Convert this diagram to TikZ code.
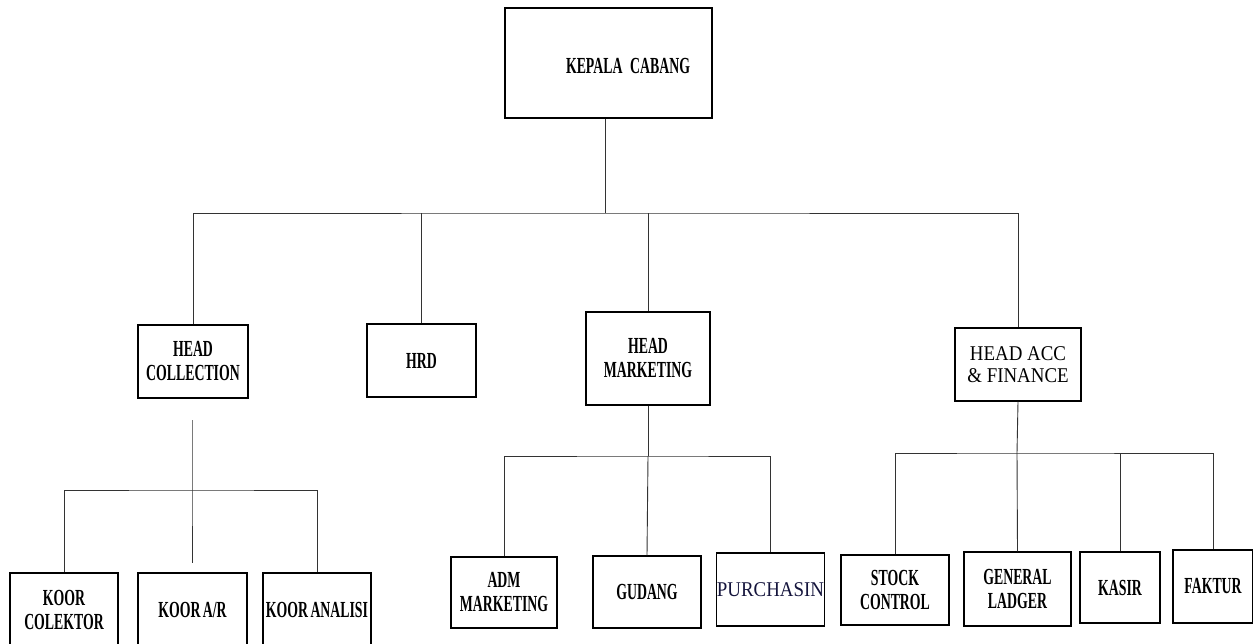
\documentclass[tikz,border=0pt]{standalone}
\usepackage{fontspec}
\usepackage{tikz}
\newfontfamily\orgbold[FakeStretch=0.6, WordSpace=0.7]{Liberation Serif}
\newfontfamily\orgreg[FakeStretch=0.9]{Liberation Serif}
\definecolor{purblue}{RGB}{20,20,60}

\begin{document}
\begin{tikzpicture}[x=1pt, y=-1pt,
  every node/.style = {shape=rectangle, draw, line width=1.1pt, inner sep=0pt, align=center,
    font=\orgbold\bfseries\fontsize{23}{24}\selectfont},
  link/.style = {line width=0.9pt, draw=black!80}]
  \useasboundingbox (0,0) rectangle (1253,643);
  % top level
  \node[minimum width=207, minimum height=110, text width=163, align=right,
    text height=25pt, text depth=5pt] (kc) at (608.5,63) {KEPALA CABANG};
  % heads
  \node[minimum width=110, minimum height=73] (hc) at (193,361.5) {HEAD\\COLLECTION};
  \node[minimum width=109, minimum height=73] (hrd) at (421.5,360.5) {HRD};
  \node[minimum width=124, minimum height=93] (hm) at (648,358.5) {HEAD\\MARKETING};
  \node[minimum width=126, minimum height=73, font=\orgreg\fontsize{21}{22}\selectfont] (hac) at (1018,364.5) {HEAD ACC\\\& FINANCE};
  % staff
  \node[minimum width=108, minimum height=74] (kco) at (64,610) {KOOR\\COLEKTOR};
  \node[minimum width=109, minimum height=74] (kar) at (192.5,610) {KOOR A/R};
  \node[minimum width=108, minimum height=74] (kan) at (317,610) {KOOR ANALISI};
  \node[minimum width=106, minimum height=71] (adm) at (504,592.5) {ADM\\MARKETING};
  \node[minimum width=108, minimum height=72] (gud) at (647,592) {GUDANG};
  \node[minimum width=107, minimum height=73, text=purblue, font=\orgreg\fontsize{21}{24}\selectfont] (pur) at (770.5,589.5) {PURCHASIN};
  \node[minimum width=108, minimum height=70] (stc) at (895,590) {STOCK\\CONTROL};
  \node[minimum width=107, minimum height=74] (gl) at (1017.5,589) {GENERAL\\LADGER};
  \node[minimum width=80, minimum height=71] (ks) at (1120,587.5) {KASIR};
  \node[minimum width=80, minimum height=73] (fk) at (1213,586.5) {FAKTUR};
  % bus points
  \coordinate (bus) at (605,213);
  \coordinate (hcstem) at (192,420);
  \coordinate (hcbus) at (192,490);
  \coordinate (karend) at (192,563);
  \coordinate (hmbus) at (648,456);
  \coordinate (hacbus) at (1017,453);
  % connectors
  \draw[link] (kc.south -| bus) -- (bus);
  \draw[link] (hc.north) |- (bus) -| (hac.north);
  \draw[link] (hrd.north) -- (hrd.north |- bus);
  \draw[link] (hm.north) -- (hm.north |- bus);
  \draw[link] (hcstem) -- (hcbus) -- (karend);
  \draw[link] (kco.north) |- (hcbus) -| (kan.north);
  \draw[link] (hm.south) -- (hmbus);
  \draw[link] (adm.north) |- (hmbus) -| (pur.north);
  \draw[link] (hmbus) -- (gud.north);
  \draw[link] (hac.south) -- (hacbus);
  \draw[link] (stc.north) |- (hacbus) -| (fk.north);
  \draw[link] (hacbus) -- (gl.north);
  \draw[link] (ks.north) -- (ks.north |- hacbus);
\end{tikzpicture}
\end{document}
